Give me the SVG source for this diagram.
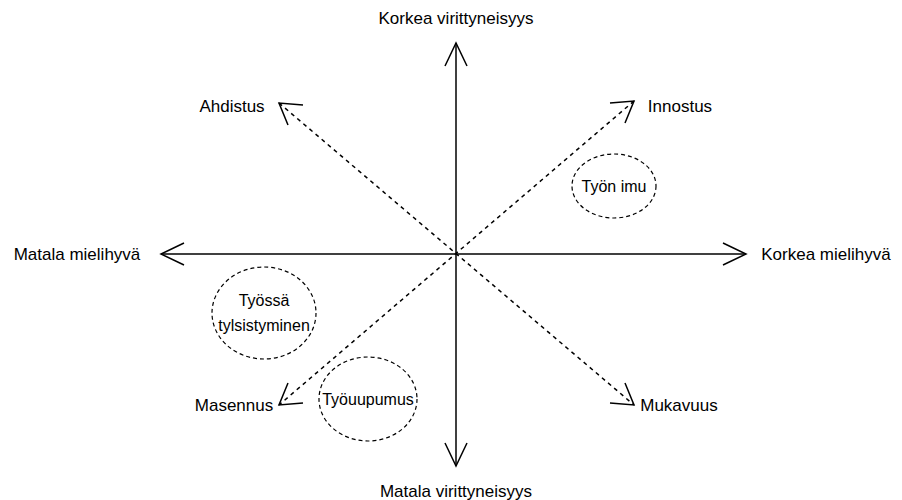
<svg xmlns="http://www.w3.org/2000/svg" width="902" height="500" viewBox="0 0 902 500">
<style>
text{font-family:"Liberation Sans",Arial,sans-serif;font-size:17px;fill:#000;text-anchor:middle;dominant-baseline:central}
.in{font-size:16px}
.axis{stroke:#000;stroke-width:1.5;fill:none}
.diag{stroke:#000;stroke-width:1.5;fill:none;stroke-dasharray:4 4}
.head{stroke:#000;stroke-width:1.5;fill:none}
.ell{fill:#fff;stroke:#000;stroke-width:1.2;stroke-dasharray:4 3}
</style>
<rect width="902" height="500" fill="#fff"/>
<g id="connectors">
<line class="axis" x1="456" y1="466" x2="456" y2="43"/>
<polyline class="head" points="445,66 456,43 467,66"/>
<polyline class="head" points="445,443 456,466 467,443"/>
<line class="axis" x1="161" y1="254" x2="746" y2="254"/>
<polyline class="head" points="184,243 161,254 184,265"/>
<polyline class="head" points="723,243 746,254 723,265"/>
<line class="diag" x1="279" y1="103" x2="634" y2="405"/>
<line class="diag" x1="634" y1="101" x2="279" y2="405"/>
<polyline class="head" points="303,105 279,103 288,125"/>
<polyline class="head" points="610,103 634,101 625,123"/>
<polyline class="head" points="288,383 279,405 303,403"/>
<polyline class="head" points="625,383 634,405 610,403"/>
</g>
<g id="ylabel-top"><text x="456" y="18">Korkea virittyneisyys</text></g>
<g id="ylabel-bottom"><text x="456" y="491">Matala virittyneisyys</text></g>
<g id="xlabel-left"><text x="77" y="254">Matala mielihyvä</text></g>
<g id="xlabel-right"><text x="826" y="254">Korkea mielihyvä</text></g>
<g id="ahdistus"><text x="232" y="106">Ahdistus</text></g>
<g id="innostus"><text x="680" y="106">Innostus</text></g>
<g id="masennus"><text x="234" y="405">Masennus</text></g>
<g id="mukavuus"><text x="679" y="405">Mukavuus</text></g>
<g id="tyon-imu"><ellipse class="ell" cx="614" cy="186" rx="42" ry="32"/><text class="in" x="614" y="186">Työn imu</text></g>
<g id="tylsistyminen"><ellipse class="ell" cx="264" cy="313" rx="52" ry="46"/><text class="in" x="264" y="300">Työssä</text><text class="in" x="264" y="325">tylsistyminen</text></g>
<g id="tyouupumus"><ellipse class="ell" cx="368" cy="399" rx="49" ry="42"/><text class="in" x="368" y="399">Työuupumus</text></g>
</svg>
